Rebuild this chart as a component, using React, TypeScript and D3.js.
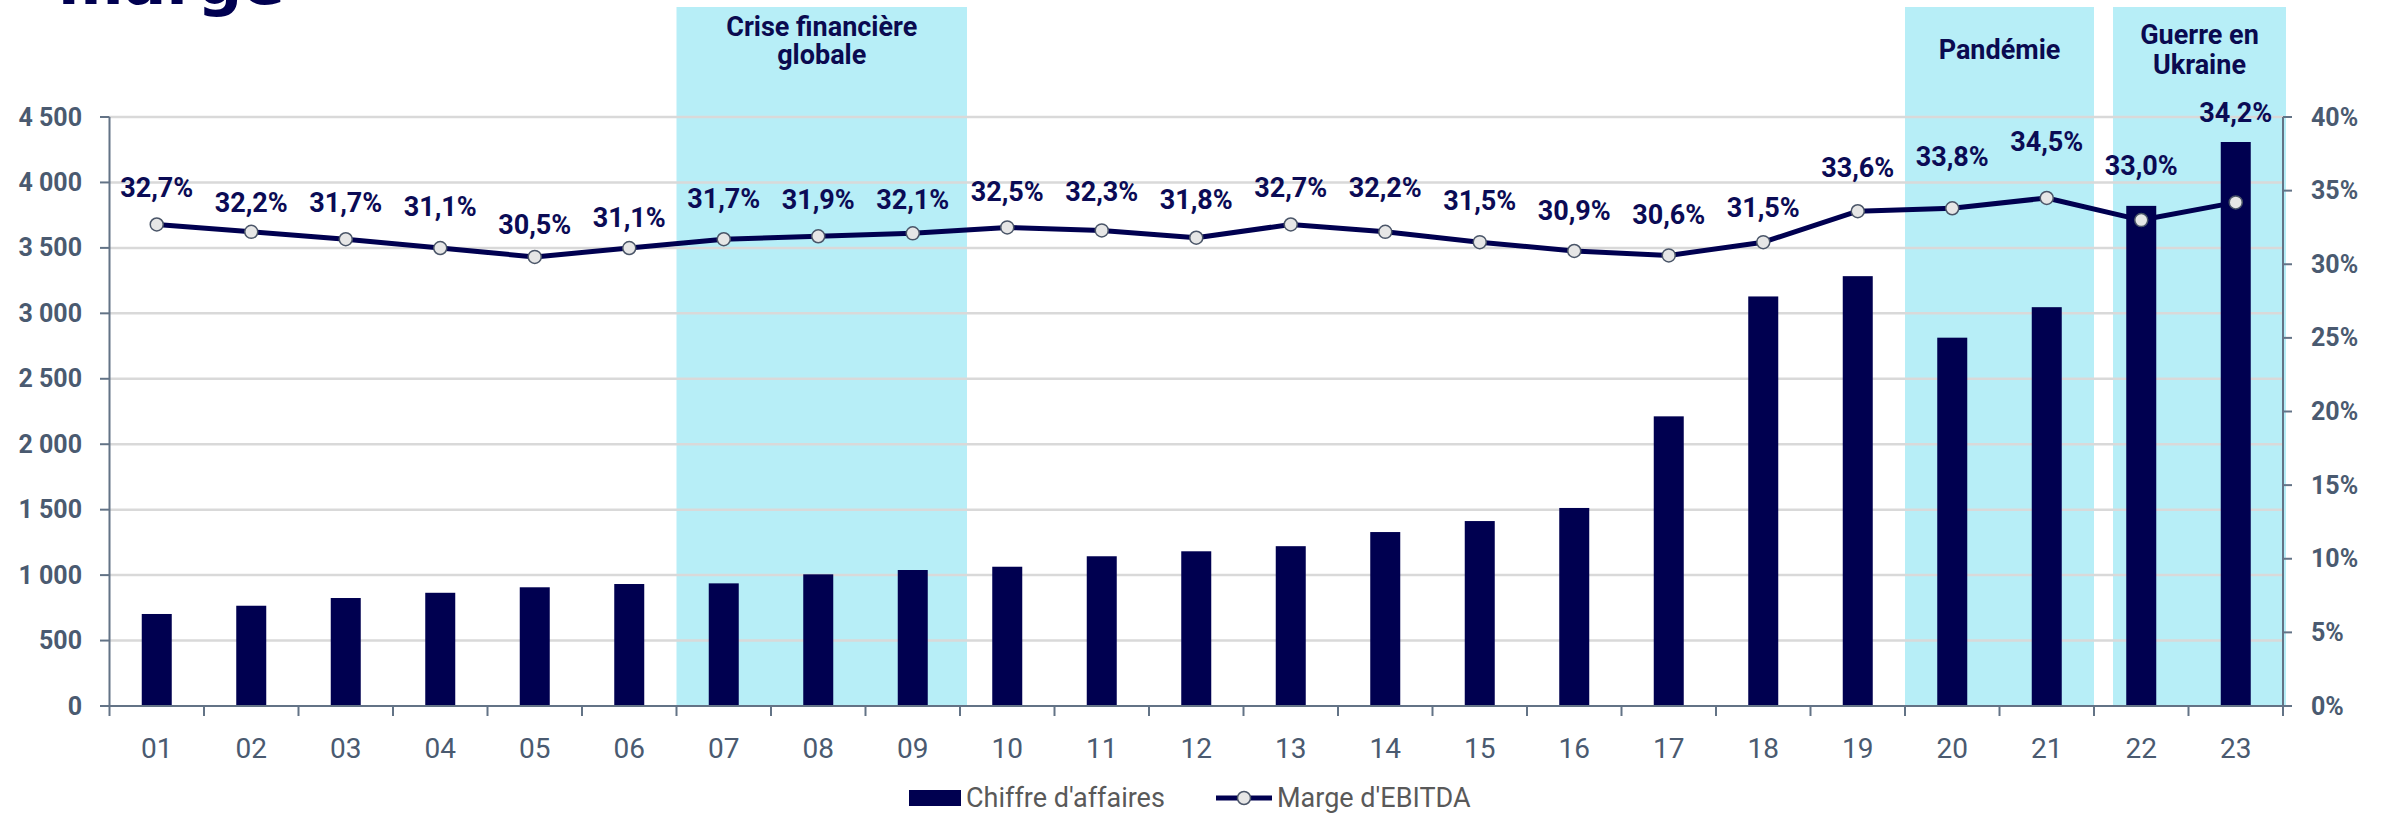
import React from "react";
import * as d3 from "d3";

const years = ["01", "02", "03", "04", "05", "06", "07", "08", "09", "10", "11", "12", "13", "14", "15", "16", "17", "18", "19", "20", "21", "22", "23"];
const revenue = [703, 766, 825, 865, 907, 932, 937, 1006, 1039, 1064, 1144, 1182, 1221, 1329, 1413, 1513, 2213, 3129, 3284, 2814, 3047, 3821, 4309];
const margin = [32.7, 32.2, 31.7, 31.1, 30.5, 31.1, 31.7, 31.9, 32.1, 32.5, 32.3, 31.8, 32.7, 32.2, 31.5, 30.9, 30.6, 31.5, 33.6, 33.8, 34.5, 33.0, 34.2];
const leftTicks = [0, 500, 1000, 1500, 2000, 2500, 3000, 3500, 4000, 4500];
const rightTicks = [0, 5, 10, 15, 20, 25, 30, 35, 40];
const periods = [
  { from: "07", to: "09", lines: ["Crise financière", "globale"] },
  { from: "20", to: "21", lines: ["Pandémie"] },
  { from: "22", to: "23", lines: ["Guerre en", "Ukraine"] },
];
// how far each % label sits above its point (px)
const labelLift = [36, 29, 36, 41, 32, 30, 40, 36, 33, 35, 38, 38, 36, 44, 41, 40, 40, 34, 43, 51, 56, 54, 89];

const W = 2387, H = 815;
const NAVY = "#000050";
const SHADE = "#b7eef7";
const AXIS = "#637386";
const LABEL = "#4a5a70";
const FONT = "Roboto, 'Noto Sans', sans-serif";

const fmtThousands = (v: number) => d3.format(",")(v).replace(/,/g, " ");
const fmtPct = (v: number) => v.toFixed(1).replace(".", ",") + "%";

export default function App() {
  const x = d3.scaleBand<string>().domain(years).range([109.5, 2283]).padding(0);
  const yL = d3.scaleLinear().domain([0, 4500]).range([706, 117]);
  const yR = d3.scaleLinear().domain([0, 40]).range([706, 117]);
  const bw = x.bandwidth();
  const barW = 30;
  const cx = (d: string) => (x(d) as number) + bw / 2;

  const line = d3
    .line<number>()
    .x((_, i) => cx(years[i]))
    .y((d) => yR(d));

  const shades = periods.map((p, k) => {
    let x0 = x(p.from) as number;
    let x1 = (x(p.to) as number) + bw;
    if (k === 0) x1 += 7;
    if (k === 2) { x0 += 19; x1 = x.range()[1] + 3; }
    return { ...p, x0, x1 };
  });

  const textY = [[27, 55], [50], [35, 65]];
  const legY = 798;

  return (
    <svg width={W} height={H} style={{ position: "absolute", left: 0, top: 0, background: "#fff" }} fontFamily={FONT}>
      <text x={58} y={4} fontFamily="'DejaVu Sans', sans-serif" fontWeight={700} fontSize={63} fill={NAVY}>marge</text>

      {shades.map((s, k) => (
        <g key={k}>
          <rect x={s.x0} y={7} width={s.x1 - s.x0} height={706 - 7} fill={SHADE} />
          {s.lines.map((t, j) => (
            <text key={j} x={(s.x0 + s.x1) / 2} y={textY[k][j]} textAnchor="middle" dominantBaseline="central"
              fontWeight={700} fontSize={27} fill="#0a0a50">{t}</text>
          ))}
        </g>
      ))}

      {leftTicks.filter((t) => t > 0).map((t) => (
        <line key={t} x1={109.5} x2={2283} y1={yL(t)} y2={yL(t)} stroke="#d9d9d9" strokeWidth={2.5} />
      ))}

      {revenue.map((v, i) => (
        <rect key={i} x={cx(years[i]) - barW / 2} y={yL(v)} width={barW} height={yL(0) - yL(v)} fill={NAVY} />
      ))}

      {/* axes */}
      <line x1={109.5} x2={109.5} y1={117} y2={707} stroke={AXIS} strokeWidth={2} />
      <line x1={2283} x2={2283} y1={117} y2={707} stroke={AXIS} strokeWidth={2} />
      <line x1={109.5} x2={2283} y1={706} y2={706} stroke={AXIS} strokeWidth={2} />
      {leftTicks.map((t) => (
        <g key={t}>
          <line x1={100} x2={109.5} y1={yL(t)} y2={yL(t)} stroke={AXIS} strokeWidth={2} />
          <text x={82} y={yL(t)} textAnchor="end" dominantBaseline="central" fontSize={25} fontWeight={700} fill={LABEL}>
            {fmtThousands(t)}
          </text>
        </g>
      ))}
      {rightTicks.map((t) => (
        <g key={t}>
          <line x1={2283} x2={2292} y1={yR(t)} y2={yR(t)} stroke={AXIS} strokeWidth={2} />
          <text x={2311} y={yR(t)} dominantBaseline="central" fontSize={25} fontWeight={700} fill={LABEL}>
            {t}%
          </text>
        </g>
      ))}
      {years.concat(["end"]).map((d, i) => {
        const xx = i < years.length ? (x(d) as number) : x.range()[1];
        return <line key={i} x1={xx} x2={xx} y1={706} y2={716} stroke={AXIS} strokeWidth={2} />;
      })}
      {years.map((d) => (
        <text key={d} x={cx(d)} y={748} textAnchor="middle" dominantBaseline="central" fontSize={28} fill={LABEL}>{d}</text>
      ))}

      {/* margin line */}
      <path d={line(margin) || ""} fill="none" stroke={NAVY} strokeWidth={5} strokeLinejoin="round" />
      {margin.map((v, i) => (
        <circle key={i} cx={cx(years[i])} cy={yR(v)} r={6.5} fill="#e6e6e6" stroke="#4a5568" strokeWidth={1.5} />
      ))}
      {margin.map((v, i) => (
        <text key={i} x={cx(years[i])} y={yR(v) - labelLift[i]} textAnchor="middle" dominantBaseline="central"
          fontSize={27} fontWeight={700} fill="#0b0b55">{fmtPct(v)}</text>
      ))}

      {/* legend */}
      <rect x={909} y={legY - 8} width={52} height={16} fill={NAVY} />
      <text x={966} y={legY} dominantBaseline="central" fontSize={27} fill="#595959">Chiffre d'affaires</text>
      <line x1={1216} x2={1272} y1={legY} y2={legY} stroke={NAVY} strokeWidth={5} />
      <circle cx={1244} cy={legY} r={6.5} fill="#e6e6e6" stroke="#4a5568" strokeWidth={1.5} />
      <text x={1277} y={legY} dominantBaseline="central" fontSize={27} fill="#595959">Marge d'EBITDA</text>
    </svg>
  );
}
